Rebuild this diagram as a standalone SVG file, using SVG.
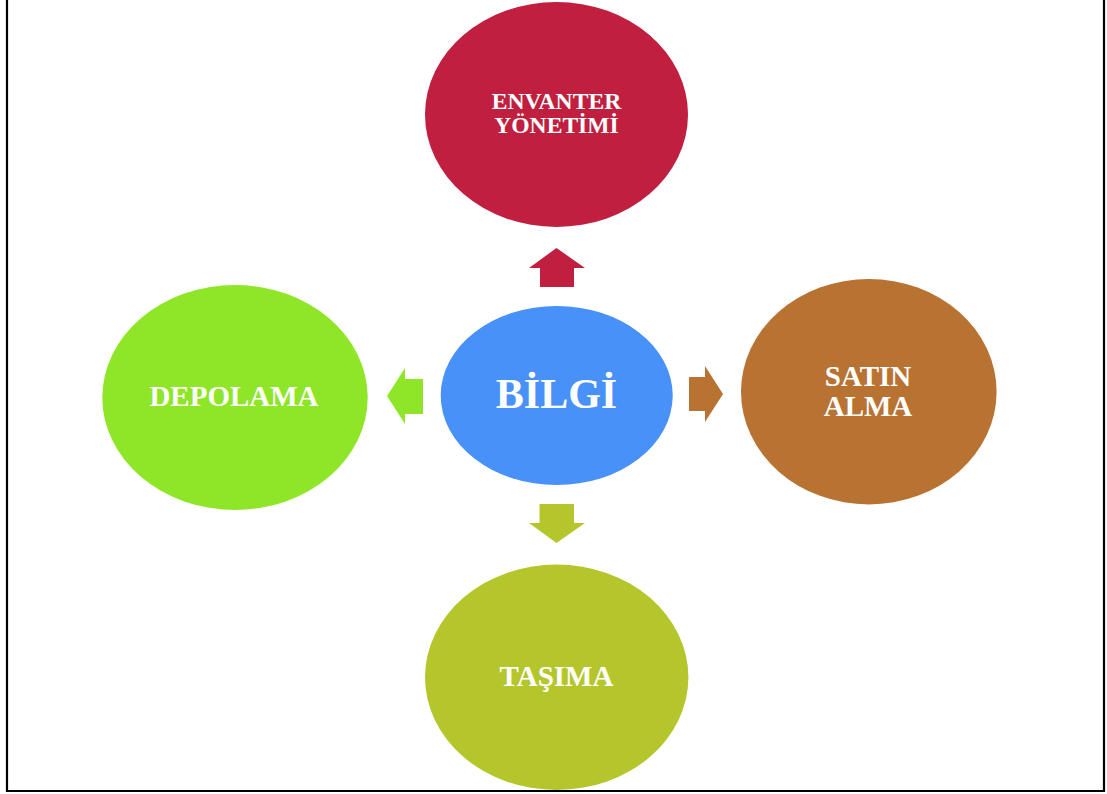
<svg xmlns="http://www.w3.org/2000/svg" width="1107" height="794" viewBox="0 0 1107 794">
<style>
.lbl{font-family:"Liberation Serif","Times New Roman",serif;font-weight:bold;fill:#ffffff;text-anchor:middle}
.s{font-size:29px}
.t{font-size:23.6px}
.b{font-size:42px}
</style>
<rect width="1107" height="794" fill="#ffffff"/>
<path d="M7,-2 V791 H1104 V-2" fill="none" stroke="#000000" stroke-width="2.2"/>
<g id="connectors">
<polygon id="arrow-up" points="556.5,248 585,268 574,268 574,287 540,287 540,268 529,268" fill="#C01F40"/>
<polygon id="arrow-left" points="387,396 405,368 405,379 423,379 423,414 405,414 405,424" fill="#8FE628"/>
<polygon id="arrow-right" points="723,394 705,366 705,377 689,377 689,411 705,411 705,422" fill="#B87333"/>
<polygon id="arrow-down" points="556.5,543 585,523 574,523 574,504 539.5,504 539.5,523 529,523" fill="#B5C62C"/>
</g>
<g id="node-envanter">
<ellipse cx="556.5" cy="114.5" rx="131.5" ry="112.5" fill="#C01F40"/>
<text class="lbl t" x="556.5" y="109">ENVANTER</text>
<text class="lbl t" x="556.5" y="133">YÖNETİMİ</text>
</g>
<g id="node-bilgi">
<ellipse cx="556.7" cy="395.5" rx="116" ry="89.5" fill="#4791F8"/>
<text class="lbl b" x="556.5" y="408">BİLGİ</text>
</g>
<g id="node-depolama">
<ellipse cx="235" cy="397.5" rx="132.7" ry="112.5" fill="#8FE628"/>
<text class="lbl s" x="234" y="406">DEPOLAMA</text>
</g>
<g id="node-satin-alma">
<ellipse cx="868.8" cy="391.7" rx="127.8" ry="112.7" fill="#B87333"/>
<text class="lbl s" x="868" y="386">SATIN</text>
<text class="lbl s" x="868" y="415.5">ALMA</text>
</g>
<g id="node-tasima">
<ellipse cx="556.7" cy="677.3" rx="131.7" ry="112.7" fill="#B5C62C"/>
<text class="lbl s" x="556.5" y="686">TAŞIMA</text>
</g>
</svg>
